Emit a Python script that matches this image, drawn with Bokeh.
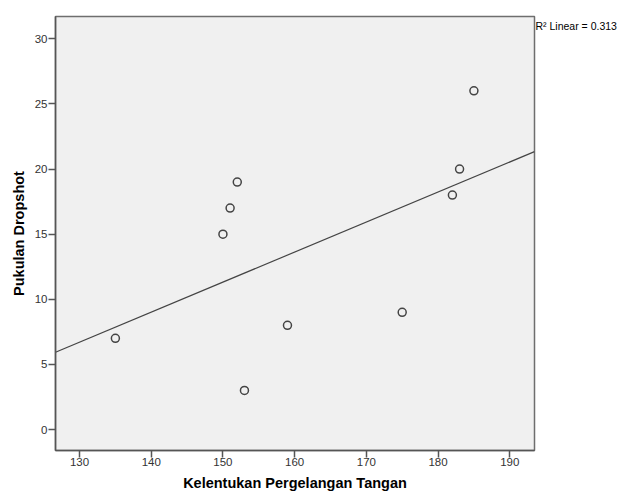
import numpy as np
from bokeh.plotting import figure
from bokeh.models import Range1d, FixedTicker, LinearAxis
from bokeh.embed import file_html
from bokeh.resources import INLINE

# Data
kelentukan = [135, 150, 151, 152, 153, 159, 175, 182, 183, 185]
dropshot = [7, 15, 17, 19, 3, 8, 9, 18, 20, 26]
x_ticks = [130, 140, 150, 160, 170, 180, 190]
y_ticks = [0, 5, 10, 15, 20, 25, 30]
x_title = "Kelentukan Pergelangan Tangan"
y_title = "Pukulan Dropshot"

X_START, X_END = 126.65, 193.45
Y_START, Y_END = -1.61, 31.71
R2_POS = 31  # vertical position of the R² note (data units)

xa = np.array(kelentukan, dtype=float)
ya = np.array(dropshot, dtype=float)
slope, intercept = np.polyfit(xa, ya, 1)
r2 = np.corrcoef(xa, ya)[0, 1] ** 2
fit_x = [X_START, X_END]
fit_y = [slope * v + intercept for v in fit_x]

FONT = "Liberation Sans"

p = figure(
    frame_width=479, frame_height=434,
    min_border_left=55, min_border_top=16, min_border_right=80, min_border_bottom=44,
    x_range=Range1d(X_START, X_END), y_range=Range1d(Y_START, Y_END),
    output_backend="svg", toolbar_location=None,
    background_fill_color="#f0f0f0", border_fill_color="white",
)
p.grid.visible = False
p.outline_line_color = "#6e6e6e"
p.outline_line_width = 1.5

for ax in (p.xaxis[0], p.yaxis[0]):
    ax.axis_line_color = "#555555"
    ax.axis_line_width = 1.5
    ax.major_tick_line_color = "#555555"
    ax.major_tick_line_width = 1.5
    ax.major_tick_out = 7
    ax.major_tick_in = 0
    ax.minor_tick_line_color = None
    ax.major_label_text_font = FONT
    ax.major_label_text_font_size = "11.5px"
    ax.major_label_text_color = "#333333"
    ax.axis_label_text_font = FONT
    ax.axis_label_text_font_size = "14.5px"
    ax.axis_label_text_font_style = "bold"
    ax.axis_label_text_color = "#000000"

p.xaxis[0].ticker = FixedTicker(ticks=x_ticks)
p.yaxis[0].ticker = FixedTicker(ticks=y_ticks)
p.xaxis[0].axis_label = x_title
p.yaxis[0].axis_label = y_title
p.xaxis[0].major_label_standoff = 0
p.xaxis[0].axis_label_standoff = 6
p.yaxis[0].major_label_standoff = 1
p.yaxis[0].axis_label_standoff = 5

# R² note, drawn as a label-only axis on the right side
note_axis = LinearAxis(
    ticker=FixedTicker(ticks=[R2_POS]),
    major_label_overrides={R2_POS: f"R\u00b2 Linear = {r2:.3f}"},
    axis_line_color=None, major_tick_line_color=None, minor_tick_line_color=None,
    major_tick_out=0, major_tick_in=0, major_label_standoff=1,
    major_label_text_font=FONT, major_label_text_font_size="10.5px",
    major_label_text_color="#000000",
)
p.add_layout(note_axis, "right")

p.line(fit_x, fit_y, line_color="#444444", line_width=1.2)

p.scatter(kelentukan, dropshot, size=8, marker="circle",
          fill_color=None, line_color="#444444", line_width=1.5)

open("out.html", "w").write(file_html(p, INLINE))
